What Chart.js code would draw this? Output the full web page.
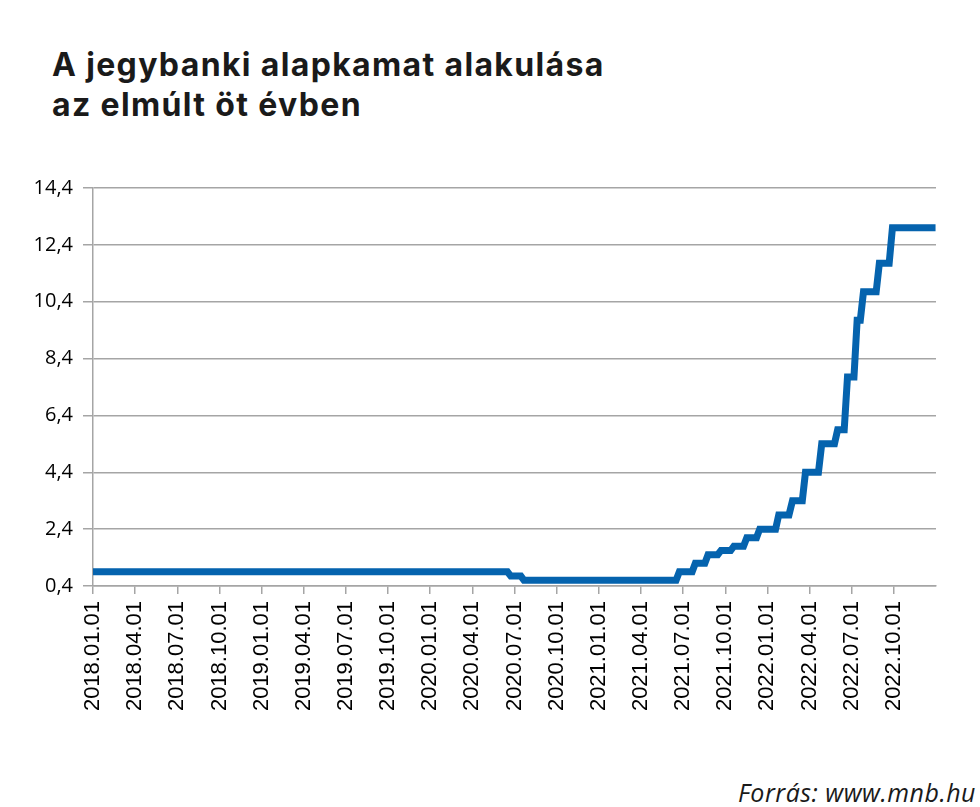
<!DOCTYPE html>
<html>
<head>
<meta charset="utf-8">
<script src="https://cdn.jsdelivr.net/npm/chart.js@4.4.1/dist/chart.umd.min.js"></script>
<style>
    body { margin: 0; background: #fff; }
    #wrap { position: relative; width: 980px; height: 807px; overflow: hidden; }
    #title { position: absolute; left: 52px; top: 45px; font-family: Inter, sans-serif; font-weight: 700;
             font-size: 32px; line-height: 40px; letter-spacing: 1.35px; color: #1a1a1a; }
    #source { position: absolute; right: 4px; top: 775px; font-family: "Open Sans", sans-serif; font-style: italic;
              font-size: 25px; letter-spacing: 0.5px; color: #1a1a1a; white-space: nowrap; }
    #rateChart { position: absolute; left: 0; top: 166px; }
</style>
</head>
<body>
<div id="wrap">
    <div id="title">A jegybanki alapkamat alakulása<br>az elmúlt öt évben</div>
    <canvas id="rateChart" width="980" height="564"></canvas>
    <div id="source">Forrás: www.mnb.hu</div>
</div>
<script>
// alapkamat (%), heti adatpontok a változások körül
var rateDates = [
    '2018-01-01', '2020-06-16', '2020-06-23', '2020-07-15', '2020-07-22',
    '2021-06-16', '2021-06-23', '2021-07-21', '2021-07-28', '2021-08-18', '2021-08-25',
    '2021-09-15', '2021-09-22', '2021-10-13', '2021-10-20', '2021-11-10', '2021-11-17',
    '2021-12-08', '2021-12-15', '2022-01-19', '2022-01-26', '2022-02-16', '2022-02-23',
    '2022-03-16', '2022-03-23', '2022-04-20', '2022-04-27', '2022-05-25', '2022-06-01',
    '2022-06-15', '2022-06-22', '2022-07-06', '2022-07-13', '2022-07-20', '2022-07-27',
    '2022-08-24', '2022-08-31', '2022-09-21', '2022-09-28', '2022-12-31'
];
var rateValues = [
    0.9, 0.9, 0.75, 0.75, 0.6,
    0.6, 0.9, 0.9, 1.2, 1.2, 1.5,
    1.5, 1.65, 1.65, 1.8, 1.8, 2.1,
    2.1, 2.4, 2.4, 2.9, 2.9, 3.4,
    3.4, 4.4, 4.4, 5.4, 5.4, 5.9,
    5.9, 7.75, 7.75, 9.75, 9.75, 10.75,
    10.75, 11.75, 11.75, 13, 13
];
var yTicks = [0.4, 2.4, 4.4, 6.4, 8.4, 10.4, 12.4, 14.4];
var startYear = 2018;
var axisMonths = 60;      // 2018.01.01 - 2023.01.01
var labelEveryMonths = 3;

// dátum -> hónapok száma 2018.01.01 óta
function toMonths(s) {
    var p = s.split('-').map(Number);
    var days = new Date(p[0], p[1], 0).getDate();
    return (p[0] - startYear) * 12 + (p[1] - 1) + (p[2] - 1) / days;
}

function monthLabel(v) {
    var y = startYear + Math.floor(v / 12);
    var m = v % 12 + 1;
    return y + '.' + (m < 10 ? '0' + m : m) + '.01';
}

var points = rateDates.map(function (d, i) {
    return { x: toMonths(d), y: rateValues[i] };
});

var gridColor = '#a5a5a5';

var rateChart = new Chart(document.getElementById('rateChart').getContext('2d'), {
    type: 'line',
    data: {
        datasets: [{
            label: 'Alapkamat',
            data: points,
            borderColor: '#0563ae',
            borderWidth: 7,
            pointRadius: 0,
            fill: false,
            tension: 0
        }]
    },
    options: {
        responsive: false,
        animation: false,
        layout: { padding: { top: 13, right: 44, left: 0, bottom: 0 } },
        plugins: {
            legend: { display: false },
            tooltip: { enabled: false }
        },
        scales: {
            x: {
                type: 'linear',
                min: 0,
                max: axisMonths,
                afterBuildTicks: function (scale) {
                    scale.ticks = scale.ticks.filter(function (t) { return t.value < axisMonths; });
                },
                afterFit: function (scale) { scale.height = 144; },
                grid: {
                    drawOnChartArea: false,
                    drawTicks: true,
                    tickLength: 8,
                    color: gridColor,
                    lineWidth: 1.5
                },
                border: { display: true, color: gridColor, width: 1.5 },
                ticks: {
                    stepSize: labelEveryMonths,
                    autoSkip: false,
                    minRotation: 90,
                    maxRotation: 90,
                    padding: 7,
                    color: '#000',
                    font: { family: '"Liberation Sans", Arial, sans-serif', size: 22 },
                    callback: function (v) { return monthLabel(v); }
                }
            },
            y: {
                min: yTicks[0],
                max: yTicks[yTicks.length - 1],
                afterFit: function (scale) { scale.width = 93; },
                grid: {
                    color: gridColor,
                    lineWidth: 1.5,
                    tickLength: 10
                },
                border: { display: true, color: gridColor, width: 1.5 },
                ticks: {
                    stepSize: 2,
                    padding: 10,
                    color: '#000',
                    font: { family: '"Open Sans", sans-serif', size: 20 },
                    callback: function (v) { return v.toFixed(1).replace('.', ','); }
                }
            }
        }
    }
});
</script>
</body>
</html>
